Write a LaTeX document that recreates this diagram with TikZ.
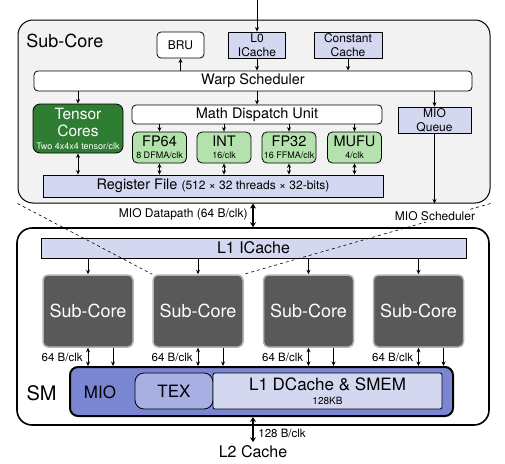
\documentclass[tikz,border=0pt]{standalone}
\usepackage{fontspec}
\setmainfont{TeX Gyre Heros}
\usetikzlibrary{positioning, arrows.meta, calc}

\definecolor{panelgray}{HTML}{F2F2F2}
\definecolor{cacheblue}{HTML}{D4D7F0}
\definecolor{mioblue}{HTML}{7B86D3}
\definecolor{texblue}{HTML}{A8AFE2}
\definecolor{tensorgreen}{HTML}{2F7D32}
\definecolor{fugreen}{HTML}{B4E2AD}
\definecolor{coregray}{HTML}{595959}
\definecolor{coreedge}{HTML}{B4B4B4}

\newcommand{\Fsize}[2]{\fontsize{#1}{#2}\selectfont}

\tikzset{
    frame/.style={draw, rounded corners=15pt, line width=1pt},
    unit/.style={draw, rounded corners=4pt, line width=0.8pt, fill=white, inner sep=0pt, align=center},
    cache/.style={draw, line width=0.8pt, fill=cacheblue, inner sep=0pt, align=center},
    fu/.style={unit, fill=fugreen, rounded corners=5pt, minimum width=54pt, minimum height=31pt, font=\Fsize{14.5}{12}},
    core/.style={draw=coreedge, line width=1.5pt, fill=coregray, rounded corners=5pt, text=white, minimum width=90pt, minimum height=72pt, font=\Fsize{18}{20}},
    bus/.style={<->, line width=2.4pt, >={Stealth[length=5pt, width=6pt]}},
    link/.style={<->, line width=1pt},
    rate/.style={font=\Fsize{11.5}{13}, inner sep=2pt},
}

\begin{document}
\begin{tikzpicture}[x=1pt, y=-1pt, >={Stealth[length=4.5pt, width=4pt]}, line width=0.8pt]
    \useasboundingbox (0,0) rectangle (505,463);

    % zoomed sub-core
    \node[frame, fill=panelgray, minimum width=472pt, minimum height=183pt] (sc) at (254,111.5) {};
    \node[anchor=west, inner sep=0pt, font=\Fsize{18}{20}] (sctitle) at (26,41) {Sub-Core};
    \node[unit, minimum width=47pt, minimum height=26pt, font=\Fsize{12}{13}] (bru) at (180.5,45) {BRU};
    \node[cache, minimum width=57pt, minimum height=26pt, font=\Fsize{12}{14}] (l0) at (257,45) {L0\\ICache};
    \node[cache, minimum width=68pt, minimum height=26pt, font=\Fsize{12}{13.5}] (cc) at (348,45) {Constant\\Cache};
    \node[unit, minimum width=438pt, minimum height=20pt, font=\Fsize{14.5}{16}] (warp) at (253,81) {Warp Scheduler};
    \node[unit, fill=tensorgreen, text=white, rounded corners=7pt, minimum width=90pt, minimum height=49pt, font=\Fsize{15.5}{17}] (tensor) at (78,128.5) {Tensor\\Cores\\[-4pt]\Fsize{9}{10}Two 4x4x4 tensor/clk};
    \node[unit, minimum width=250pt, minimum height=19pt, font=\Fsize{14.5}{16}] (mdu) at (257,114.5) {Math Dispatch Unit};
    \node[fu] (fp64) at (159.5,147.5) {FP64\\\Fsize{9}{10}8 DFMA/clk};
    \node[fu] (int) at (224,147.5) {INT\\\Fsize{9}{10}16/clk};
    \node[fu] (fp32) at (289,147.5) {FP32\\\Fsize{9}{10}16 FFMA/clk};
    \node[fu] (mufu) at (354.5,147.5) {MUFU\\\Fsize{9}{10}4/clk};
    \node[cache, minimum width=340pt, minimum height=22pt] (rf) at (213,186) {\Fsize{14.5}{16}Register File \Fsize{12}{13}(512 × 32 threads × 32-bits)};
    \node[cache, minimum width=73pt, minimum height=26pt, font=\Fsize{12}{14}] (mioq) at (434.5,120) {MIO\\Queue};

    \coordinate (fetch) at (257,0);
    \draw[->] (fetch) -- (l0);
    \draw[->] (warp.north -| bru) -- (bru);
    \draw[->] (l0) -- (l0 |- warp.north);
    \draw[->] (cc) -- (cc |- warp.north);
    \draw[->] (warp.south -| tensor) -- (tensor);
    \draw[->] (warp.south -| mdu) -- (mdu);
    \draw[->] (warp.south -| mioq) -- (mioq);
    \foreach \u in {fp64, int, fp32, mufu} {
        \draw[->] (mdu.south -| \u) -- (\u);
        \draw[link] (\u) -- (\u |- rf.north);
    }
    \draw[link] (tensor) -- (tensor |- rf.north);
    \draw[->] (mioq) -- (mioq |- sc.south);

    % SM
    \node[frame, line width=1.6pt, fill=white, minimum width=472pt, minimum height=197pt] (sm) at (253,326.5) {};
    \draw[bus] (sm.north |- sc.south) -- (sm.north);
    \node[rate, anchor=east, font=\Fsize{12}{13}] (mdp) at (250,214) {MIO Datapath (64 B/clk)};
    \node[font=\Fsize{20}{22}] (smlbl) at (41.5,393) {SM};
    \node[cache, minimum width=425pt, minimum height=20pt, font=\Fsize{16}{18}] (l1i) at (253.5,248) {L1 ICache};

    % memory block
    \node[draw, line width=2pt, fill=mioblue, rounded corners=8pt, minimum width=383pt, minimum height=49pt] (mem) at (261.5,391.5) {};
    \node[font=\Fsize{17}{19}] (mio) at (100,392) {MIO};
    \node[unit, fill=texblue, rounded corners=9pt, minimum width=78pt, minimum height=36pt, font=\Fsize{17}{19}] (tex) at (174,391) {TEX};
    \node[cache, rounded corners=2pt, minimum width=229pt, minimum height=36pt, font=\Fsize{17}{14.5}] (l1d) at (327.5,391) {L1 DCache \& SMEM\\\Fsize{10}{11}128KB};

    \foreach \i/\x in {1/88, 2/198, 3/308.5, 4/418.5} {
        \node[core] (core\i) at (\x,311) {Sub-Core};
        \draw[->] (core\i |- l1i.south) -- (core\i);
        \draw[link] (core\i) -- (core\i |- mem.north);
        \node[rate, anchor=east] (bw\i) at ($(core\i.south)+(-3,10)$) {64 B/clk};
        \coordinate (out\i) at ([xshift=25pt]core\i.south);
        \draw[->] (out\i) -- (out\i |- mem.north);
    }

    \node[font=\Fsize{16}{18}] (l2) at (253,452) {L2 Cache};
    \draw[bus] (sm.north |- mem.south) -- (l2);
    \node[rate, anchor=west] (l2bw) at (256,433) {128 B/clk};

    % zoom lines
    \draw[dashed, line width=0.6pt] (sc.south west) -- (core2.north west);
    \draw[dashed, line width=0.6pt] (sc.south east) -- (core2.north east);
    \node[rate, fill=white, inner sep=1pt, font=\Fsize{12}{13}] (miosched) at (435,216) {MIO Scheduler};
\end{tikzpicture}
\end{document}
